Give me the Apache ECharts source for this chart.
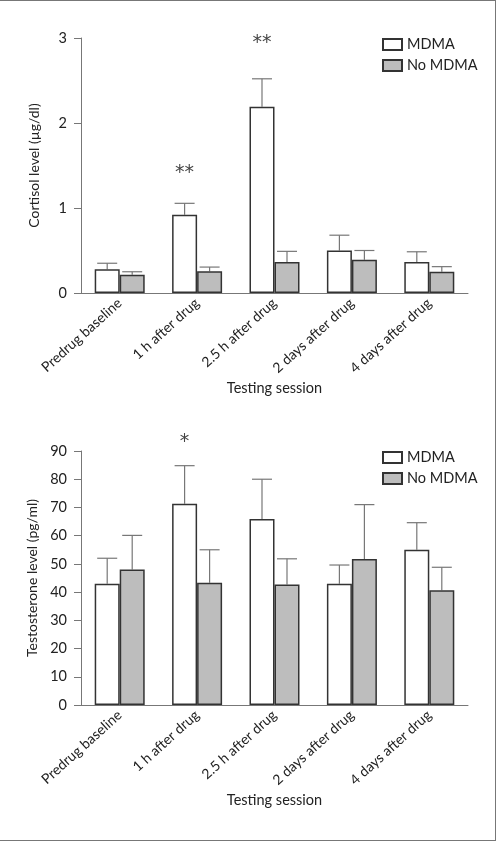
<!DOCTYPE html>
<html lang="en">
<head>
    <meta charset="UTF-8">
    <title>Cortisol and testosterone</title>
    <script src="https://cdn.jsdelivr.net/npm/echarts@6/dist/echarts.min.js"></script>
    <style>
        body { margin: 0; background: #fff; }
        #chart {
            width: 495px;
            height: 839px;
            border-top: 1px solid #777;
            border-right: 1px solid #777;
            border-bottom: 1px solid #777;
        }
    </style>
</head>
<body>
    <div id="chart"></div>
    <script>
        var categories = ['Predrug baseline', '1 h after drug', '2.5 h after drug', '2 days after drug', '4 days after drug'];

        // cortisol (µg/dl): mean and SEM
        var cortisolMdma = [0.28, 0.92, 2.19, 0.50, 0.365];
        var cortisolMdmaSem = [0.07, 0.135, 0.33, 0.18, 0.12];
        var cortisolNo = [0.215, 0.255, 0.365, 0.39, 0.25];
        var cortisolNoSem = [0.035, 0.05, 0.125, 0.11, 0.06];
        var cortisolStars = [[1, 1.47, '**'], [2, 3.0, '**']];

        // testosterone (pg/ml): mean and SEM
        var testoMdma = [43.0, 71.3, 65.9, 43.0, 55.0];
        var testoMdmaSem = [9.0, 13.5, 14.1, 6.6, 9.6];
        var testoNo = [48.0, 43.3, 42.7, 51.7, 40.7];
        var testoNoSem = [12.1, 11.7, 9.1, 19.3, 8.1];
        var testoStars = [[1, 94.8, '*']];

        var FONT = 'Lato';
        var TEXT = '#222';
        var AXIS = '#777';

        function errData(means, sems) {
            return means.map(function (m, i) { return [i, m, sems[i]]; });
        }

        function errRender(offset) {
            return function (params, api) {
                var i = api.value(0);
                var base = api.coord([i, api.value(1)]);
                var top = api.coord([i, api.value(1) + api.value(2)]);
                var x = base[0] + offset;
                var style = { stroke: AXIS, lineWidth: 1.2 };
                return {
                    type: 'group',
                    children: [
                        { type: 'line', shape: { x1: x, y1: base[1], x2: x, y2: top[1] }, style: style },
                        { type: 'line', shape: { x1: x - 10, y1: top[1], x2: x + 10, y2: top[1] }, style: style }
                    ]
                };
            };
        }

        function starRender(params, api) {
            var p = api.coord([api.value(0), api.value(1)]);
            var list = params.seriesName === 'starsTop' ? cortisolStars : testoStars;
            return {
                type: 'text',
                x: p[0] - 12.5,
                y: p[1] + 5,
                style: {
                    text: list[params.dataIndex][2],
                    font: '19px "DejaVu Sans"',
                    fill: '#444',
                    align: 'center',
                    verticalAlign: 'middle'
                }
            };
        }

        function xAxisFor(gridIndex) {
            return {
                type: 'category',
                gridIndex: gridIndex,
                data: categories,
                axisLine: { lineStyle: { color: AXIS, width: 1 } },
                axisTick: { show: false },
                axisLabel: { rotate: 42, margin: 8, color: TEXT, fontFamily: FONT, fontSize: 14 },
                name: 'Testing session',
                nameLocation: 'middle',
                nameGap: 88,
                nameTextStyle: { color: TEXT, fontFamily: FONT, fontSize: 14.5 }
            };
        }

        function yAxisFor(gridIndex, max, interval, name) {
            return {
                type: 'value',
                gridIndex: gridIndex,
                min: 0,
                max: max,
                interval: interval,
                splitLine: { show: false },
                axisLine: { show: true, lineStyle: { color: AXIS, width: 1 } },
                axisTick: { show: true, length: 7, lineStyle: { color: AXIS } },
                axisLabel: { margin: 14, color: TEXT, fontFamily: FONT, fontSize: 14.5 },
                name: name,
                nameLocation: 'middle',
                nameGap: 40,
                nameTextStyle: { color: TEXT, fontFamily: FONT, fontSize: 14 }
            };
        }

        function legendFor(top) {
            return {
                orient: 'vertical',
                left: 377,
                top: top,
                itemWidth: 19,
                itemHeight: 11,
                itemGap: 6,
                icon: 'rect',
                data: ['MDMA', 'No MDMA'],
                textStyle: { color: TEXT, fontFamily: FONT, fontSize: 14.5 }
            };
        }

        var mdmaStyle = { color: '#fff', borderColor: '#333', borderWidth: 1.5 };
        var noStyle = { color: '#bdbdbd', borderColor: '#333', borderWidth: 1.5 };

        function barSeries(name, idx, values, style) {
            return {
                name: name,
                type: 'bar',
                xAxisIndex: idx,
                yAxisIndex: idx,
                data: values,
                barWidth: 25,
                barGap: '0%',
                itemStyle: style,
                emphasis: { disabled: true }
            };
        }

        function errSeries(name, idx, means, sems, offset) {
            return {
                name: name,
                type: 'custom',
                xAxisIndex: idx,
                yAxisIndex: idx,
                data: errData(means, sems),
                renderItem: errRender(offset),
                clip: false,
                z: 1
            };
        }

        var chart = echarts.init(document.getElementById('chart'), null, { renderer: 'canvas' });

        var option = {
            animation: false,
            legend: [legendFor(31), legendFor(444)],
            grid: [
                { left: 81, right: 27, top: 37, bottom: 547 },
                { left: 81, right: 27, top: 450, bottom: 135 }
            ],
            xAxis: [xAxisFor(0), xAxisFor(1)],
            yAxis: [
                yAxisFor(0, 3, 1, 'Cortisol level (µg/dl)'),
                yAxisFor(1, 90, 10, 'Testosterone level (pg/ml)')
            ],
            series: [
                errSeries('errMdmaTop', 0, cortisolMdma, cortisolMdmaSem, -12.5),
                errSeries('errNoTop', 0, cortisolNo, cortisolNoSem, 12.5),
                barSeries('MDMA', 0, cortisolMdma, mdmaStyle),
                barSeries('No MDMA', 0, cortisolNo, noStyle),
                errSeries('errMdmaBottom', 1, testoMdma, testoMdmaSem, -12.5),
                errSeries('errNoBottom', 1, testoNo, testoNoSem, 12.5),
                barSeries('MDMA', 1, testoMdma, mdmaStyle),
                barSeries('No MDMA', 1, testoNo, noStyle),
                {
                    name: 'starsTop',
                    type: 'custom',
                    xAxisIndex: 0,
                    yAxisIndex: 0,
                    data: cortisolStars,
                    renderItem: starRender,
                    clip: false
                },
                {
                    name: 'starsBottom',
                    type: 'custom',
                    xAxisIndex: 1,
                    yAxisIndex: 1,
                    data: testoStars,
                    renderItem: starRender,
                    clip: false
                }
            ]
        };

        chart.setOption(option);
    </script>
</body>
</html>
